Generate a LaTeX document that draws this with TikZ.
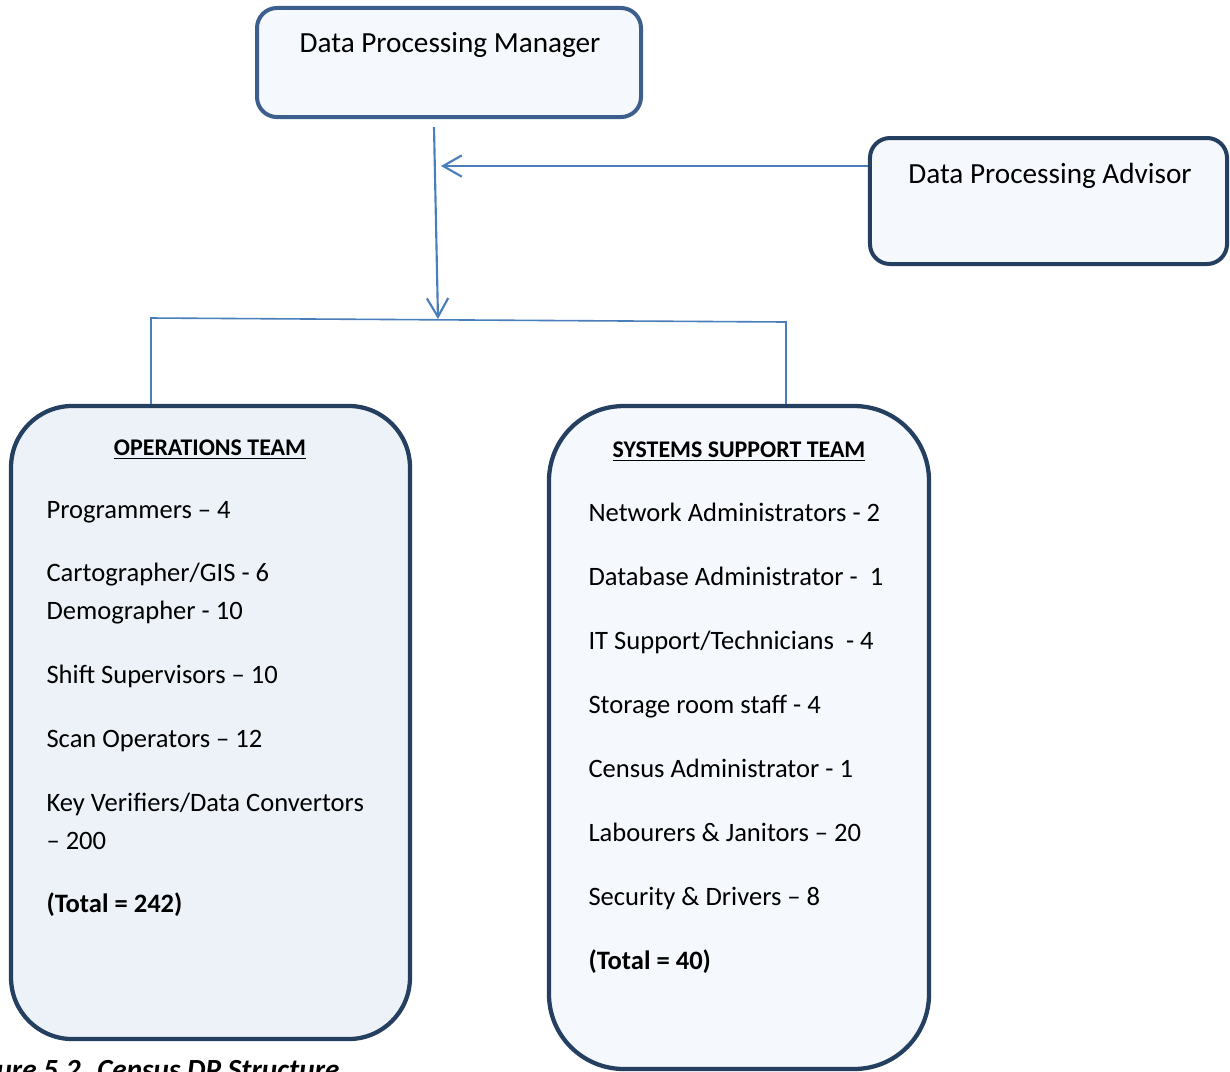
\documentclass[tikz,border=0pt]{standalone}
\usepackage{fontspec}
\setmainfont{Carlito}
\usetikzlibrary{arrows.meta,positioning}
\definecolor{navy}{HTML}{243F60}
\definecolor{steel}{HTML}{3D5F8E}
\definecolor{linkblue}{HTML}{4A7EBB}
\definecolor{paleblue}{HTML}{F5F8FC}
\definecolor{opsfill}{HTML}{EDF2F8}

\begin{document}
\begin{tikzpicture}[
  x=0.375bp, y=-0.375bp,
  topbox/.style={draw=navy, line width=1.5bp, rounded corners=7.5bp, fill=paleblue,
                 inner sep=0pt},
  teambox/.style={draw=navy, line width=1.6bp, fill=paleblue, inner sep=0pt},
  title/.style={font=\fontsize{11}{13.2}\selectfont, anchor=base, inner sep=0pt},
  head/.style={font=\fontsize{9}{11}\selectfont\bfseries, anchor=base, inner sep=0pt},
  item/.style={font=\fontsize{10}{12}\selectfont, anchor=base west, inner sep=0pt},
  arrow/.style={-{Straight Barb[length=7bp, width=8bp]}, line width=0.8bp, draw=linkblue},
  link/.style={line width=0.6bp, draw=linkblue}
]
  \useasboundingbox (0,0) rectangle (1230,1072);

  % top boxes
  \node[topbox, draw=steel, minimum width=144bp, minimum height=40.9bp] (mgr) at (449,62.5) {};
  \node[title] (mgrtext) at (450,52) {Data Processing Manager};
  \node[topbox, minimum width=133.9bp, minimum height=47.25bp] (adv) at (1048.5,201) {};
  \node[title] (advtext) at (1050,183) {Data Processing Advisor};

  % team boxes
  \node[teambox, fill=opsfill, rounded corners=23bp, minimum width=149.6bp,
        minimum height=237.4bp] (ops) at (210.5,722.5) {};
  \node[teambox, rounded corners=28bp, minimum width=142.5bp,
        minimum height=248.6bp] (sys) at (739,737.5) {};

  \node[head] (opshead) at (210,455) {\underline{OPERATIONS TEAM}};
  \node[item] (ops1) at (46,518) {Programmers – 4};
  \node[item] (ops2) at (46,581) {Cartographer/GIS - 6};
  \node[item] (ops3) at (46,619) {Demographer - 10};
  \node[item] (ops4) at (46,683) {Shift Supervisors – 10};
  \node[item] (ops5) at (46,747) {Scan Operators – 12};
  \node[item] (ops6) at (46,811) {Key Verifiers/Data Convertors};
  \node[item] (ops7) at (46,849) {– 200};
  \node[item, font=\fontsize{10}{12}\selectfont\bfseries] (opstotal) at (46,912)
    {(Total = 242)};

  \node[head] (syshead) at (739,457) {\underline{SYSTEMS SUPPORT TEAM}};
  \node[item] (sys1) at (588,521) {Network Administrators - 2};
  \node[item] (sys2) at (588,585) {Database Administrator -\ \ 1};
  \node[item] (sys3) at (588,649) {IT Support/Technicians\ \ - 4};
  \node[item] (sys4) at (588,713) {Storage room staff - 4};
  \node[item] (sys5) at (588,777) {Census Administrator - 1};
  \node[item] (sys6) at (588,841) {Labourers \& Janitors – 20};
  \node[item] (sys7) at (588,905) {Security \& Drivers – 8};
  \node[item, font=\fontsize{10}{12}\selectfont\bfseries] (systotal) at (588,969)
    {(Total = 40)};

  \node[font=\fontsize{11}{13.2}\selectfont\bfseries\itshape, anchor=base east,
        inner sep=0pt] (caption) at (340,1079) {Figure 5.2. Census DP Structure};

  % connectors
  \coordinate (join) at (438,319);
  \coordinate (advin) at (441,166);
  \coordinate (bl) at (151,318);
  \coordinate (br) at (786,322);
  \draw[arrow] ([shift={(-15,8)}]mgr.south) -- (join);
  \draw[arrow] (adv.west |- advin) -- (advin);
  \draw[link] (ops.north -| bl) -- (bl) -- (br) -- (sys.north -| br);
\end{tikzpicture}
\end{document}
